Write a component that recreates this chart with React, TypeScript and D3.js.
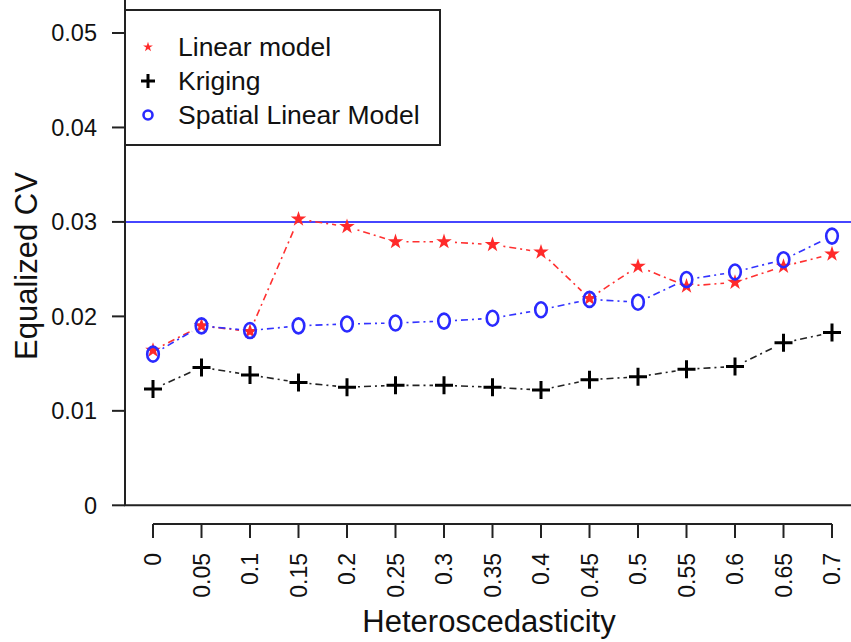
import { useEffect, useRef } from "react";
import * as d3 from "d3";

const hetero = [0, 0.05, 0.1, 0.15, 0.2, 0.25, 0.3, 0.35, 0.4, 0.45, 0.5, 0.55, 0.6, 0.65, 0.7];
const xTickLabels = ["0", "0.05", "0.1", "0.15", "0.2", "0.25", "0.3", "0.35", "0.4", "0.45", "0.5", "0.55", "0.6", "0.65", "0.7"];
const yTicks = [0, 0.01, 0.02, 0.03, 0.04, 0.05];
const yTickLabels = ["0", "0.01", "0.02", "0.03", "0.04", "0.05"];

const linearModel = [0.0164, 0.0190, 0.0184, 0.0303, 0.0295, 0.0279, 0.0279, 0.0276, 0.0268, 0.0219, 0.0253, 0.0232, 0.0236, 0.0253, 0.0266];
const kriging = [0.0123, 0.0146, 0.0138, 0.0130, 0.0125, 0.0127, 0.0127, 0.0125, 0.0122, 0.0133, 0.0136, 0.0144, 0.0147, 0.0172, 0.0183];
const spatialLM = [0.0160, 0.0190, 0.0185, 0.0190, 0.0192, 0.0193, 0.0195, 0.0198, 0.0207, 0.0218, 0.0215, 0.0239, 0.0247, 0.0260, 0.0285];
const refLine = 0.03;

const W = 851,
  H = 642;
const FONT = "'Liberation Sans', Arial, sans-serif";

const App = () => {
  const ref = useRef<SVGSVGElement>(null);

  useEffect(() => {
    const svg = d3.select(ref.current);
    svg.selectAll("*").remove();

    const x = d3.scaleLinear().domain([0, 0.7]).range([153, 832]);
    const y = d3.scaleLinear().domain([0, 0.05]).range([505.3, 33]);
    const boxLeft = 125;

    // reference line at 0.03
    svg
      .append("line")
      .attr("x1", boxLeft)
      .attr("x2", W)
      .attr("y1", y(refLine))
      .attr("y2", y(refLine))
      .attr("stroke", "#4646ff")
      .attr("stroke-width", 2);

    // box (left + bottom)
    svg
      .append("path")
      .attr("d", `M${boxLeft},0 V${y(0)} H${W}`)
      .attr("fill", "none")
      .attr("stroke", "#222")
      .attr("stroke-width", 2);

    // y axis
    const ya = svg.append("g");
    ya.append("line")
      .attr("x1", boxLeft)
      .attr("x2", boxLeft)
      .attr("y1", y(0.05))
      .attr("y2", y(0))
      .attr("stroke", "#222")
      .attr("stroke-width", 2);
    yTicks.forEach((t, i) => {
      ya.append("line")
        .attr("x1", 112)
        .attr("x2", boxLeft)
        .attr("y1", y(t))
        .attr("y2", y(t))
        .attr("stroke", "#222")
        .attr("stroke-width", 2);
      ya.append("text")
        .attr("x", 97)
        .attr("y", y(t))
        .attr("dy", "0.36em")
        .attr("text-anchor", "end")
        .attr("font-family", FONT)
        .attr("font-size", 23.5)
        .attr("fill", "#111")
        .text(yTickLabels[i]);
    });

    // x axis
    const xa = svg.append("g");
    xa.append("line")
      .attr("x1", x(0))
      .attr("x2", x(0.7))
      .attr("y1", 524)
      .attr("y2", 524)
      .attr("stroke", "#222")
      .attr("stroke-width", 2);
    hetero.forEach((h, i) => {
      xa.append("line")
        .attr("x1", x(h))
        .attr("x2", x(h))
        .attr("y1", 524)
        .attr("y2", 538)
        .attr("stroke", "#222")
        .attr("stroke-width", 2);
      xa.append("text")
        .attr("transform", `translate(${x(h)},553) rotate(-90)`)
        .attr("dy", "0.36em")
        .attr("text-anchor", "end")
        .attr("font-family", FONT)
        .attr("font-size", 23)
        .attr("fill", "#111")
        .text(xTickLabels[i]);
    });

    // axis titles
    svg
      .append("text")
      .attr("x", 489)
      .attr("y", 632)
      .attr("text-anchor", "middle")
      .attr("font-family", FONT)
      .attr("font-size", 31)
      .attr("fill", "#111")
      .text("Heteroscedasticity");
    svg
      .append("text")
      .attr("transform", `translate(37,266) rotate(-90)`)
      .attr("text-anchor", "middle")
      .attr("font-family", FONT)
      .attr("font-size", 31)
      .attr("fill", "#111")
      .text("Equalized CV");

    // series lines (type "b": gaps around points)
    const gap = 11;
    const drawLine = (vals: number[], color: string) => {
      const g = svg.append("g");
      for (let i = 0; i < vals.length - 1; i++) {
        const x1 = x(hetero[i]),
          y1 = y(vals[i]),
          x2 = x(hetero[i + 1]),
          y2 = y(vals[i + 1]);
        const len = Math.hypot(x2 - x1, y2 - y1);
        if (len <= 2 * gap) continue;
        const ux = (x2 - x1) / len,
          uy = (y2 - y1) / len;
        g.append("line")
          .attr("x1", x1 + ux * gap)
          .attr("y1", y1 + uy * gap)
          .attr("x2", x2 - ux * gap)
          .attr("y2", y2 - uy * gap)
          .attr("stroke", color)
          .attr("stroke-width", 1.6)
          .attr("stroke-dasharray", "2 4 7 4");
      }
    };
    drawLine(linearModel, "#ff3030");
    drawLine(kriging, "#222");
    drawLine(spatialLM, "#3333ff");

    const star = d3.symbol(d3.symbolStar, 75)();
    const plus = (g: any, cx: number, cy: number, s: number) => {
      g.append("path")
        .attr("d", `M${cx - s},${cy} H${cx + s} M${cx},${cy - s} V${cy + s}`)
        .attr("stroke", "#000")
        .attr("stroke-width", 3)
        .attr("fill", "none");
    };

    // markers
    const mk = svg.append("g");
    kriging.forEach((v, i) => plus(mk, x(hetero[i]), y(v), 9));
    linearModel.forEach((v, i) => {
      mk.append("path")
        .attr("d", star)
        .attr("transform", `translate(${x(hetero[i])},${y(v)})`)
        .attr("fill", "#ff2a2a");
    });
    spatialLM.forEach((v, i) => {
      mk.append("ellipse")
        .attr("cx", x(hetero[i]))
        .attr("cy", y(v))
        .attr("rx", 5.8)
        .attr("ry", 7.5)
        .attr("fill", "none")
        .attr("stroke", "#2a2aff")
        .attr("stroke-width", 2.6);
    });

    // legend
    const lg = svg.append("g");
    lg.append("rect")
      .attr("x", boxLeft)
      .attr("y", 10)
      .attr("width", 315)
      .attr("height", 135)
      .attr("fill", "#fff")
      .attr("stroke", "#222")
      .attr("stroke-width", 2);
    const items = ["Linear model", "Kriging", "Spatial Linear Model"];
    const rowY = [47, 81, 115];
    lg.append("path")
      .attr("d", d3.symbol(d3.symbolStar, 30)())
      .attr("transform", `translate(148,${rowY[0]})`)
      .attr("fill", "#ff2a2a");
    plus(lg, 148, rowY[1], 7);
    lg.append("circle")
      .attr("cx", 148)
      .attr("cy", rowY[2])
      .attr("r", 4.5)
      .attr("fill", "none")
      .attr("stroke", "#2a2aff")
      .attr("stroke-width", 2.6);
    items.forEach((t, i) => {
      lg.append("text")
        .attr("x", 178)
        .attr("y", rowY[i] + 8.5)
        .attr("font-family", FONT)
        .attr("font-size", 26.5)
        .attr("fill", "#111")
        .text(t);
    });
  }, []);

  return (
    <svg
      ref={ref}
      width={W}
      height={H}
      style={{ position: "absolute", left: 0, top: 0, background: "#fff" }}
    />
  );
};

export default App;
